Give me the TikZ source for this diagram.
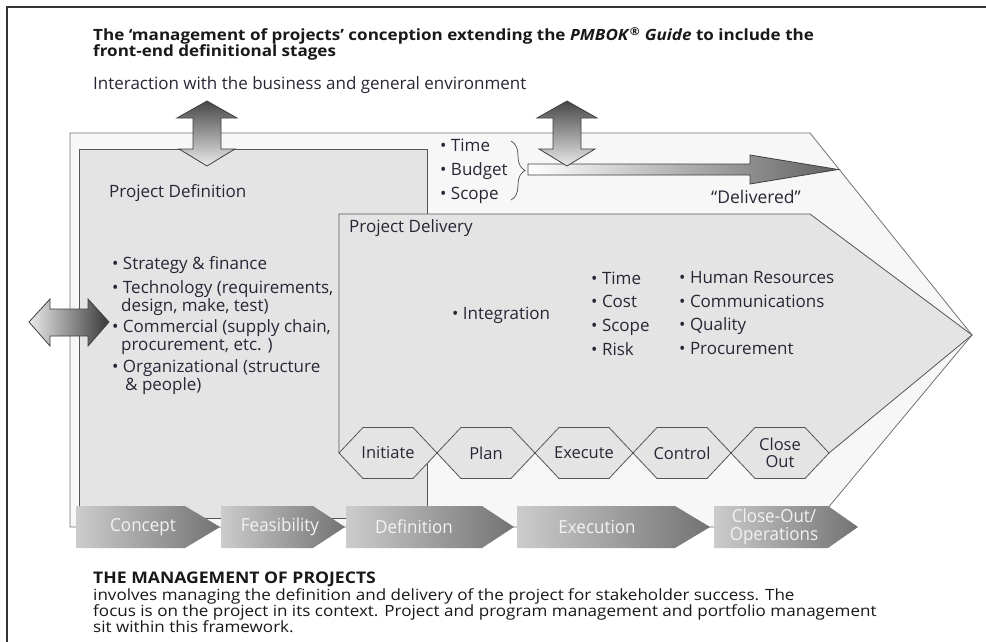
\documentclass[tikz,border=0pt]{standalone}
\usepackage{fontspec}
\setmainfont{Open Sans}
\newfontfamily\condfont[FakeStretch=0.945]{Open Sans}
\newfontfamily\wideft[FakeStretch=1.1]{Open Sans}
\usetikzlibrary{decorations.pathreplacing}
\definecolor{txt}{HTML}{2A2636}
\definecolor{outerfill}{HTML}{F7F7F7}
\definecolor{grayfill}{HTML}{E4E4E4}
\definecolor{edge}{HTML}{555555}
\tikzset{
  lbl/.style={text=txt, font=\fontsize{17}{18}\selectfont, inner sep=0pt, anchor=base west, align=left},
  ttl/.style={text=black!90, font=\wideft\bfseries\fontsize{15.5}{16}\selectfont, inner sep=0pt, anchor=base west},
  btm/.style={text=black!90, font=\wideft\fontsize{15.5}{16}\selectfont, inner sep=0pt, anchor=base west},
  hexs/.style={fill=grayfill, draw=edge, line width=0.8pt, line join=miter},
  hexlbl/.style={text=txt, font=\fontsize{16.5}{17}\selectfont, inner sep=0pt, align=center},
  stage/.style={left color=black!20, right color=black!55, draw=none},
  stagelbl/.style={text=white!95!black, font=\condfont\fontsize{18}{18}\selectfont, inner sep=0pt, align=center},
  vbig/.style={top color=black!72, bottom color=black!8, draw=black!75, line width=0.8pt, line join=miter},
  hbig/.style={left color=black!8, right color=black!78, draw=black!75, line width=0.8pt, line join=miter},
}
\newcommand\vdarr[1]{%
  \path[vbig] (#1,101) -- (#1+30,118) -- (#1+14,118) -- (#1+14,149) -- (#1+28,149) -- (#1,166)
    -- (#1-28,149) -- (#1-14,149) -- (#1-14,118) -- (#1-30,118) -- cycle;}
\newcommand\stagearr[3]{%
  \path[stage] (#1,506) -- (#2,506) -- (#3,527) -- (#2,548) -- (#1,548) -- cycle;}
\begin{document}
\begin{tikzpicture}[x=1pt,y=-1pt]
\useasboundingbox (0,0) rectangle (986,642);
\fill[white] (0,0) rectangle (986,642);
% frame
\draw[line width=2pt, black!80] (986,7) -- (7,7) -- (7,642);

% title
\node[ttl] (t1) at (93,41) {The ‘management of projects’ conception extending the \textit{PMBOK}\textsuperscript{®} \textit{Guide} to include the};
\node[ttl] (t2) at (93,57) {front-end definitional stages};
\node[lbl] (env) at (93,89) {Interaction with the business and general environment};

% outer environment shape
\filldraw[fill=outerfill, draw=black!55, line width=0.8pt] (70,133) -- (810,133) -- (972,335) -- (812,527) -- (70,527) -- cycle;

% project definition box
\filldraw[fill=grayfill, draw=edge, line width=0.8pt] (79,149) rectangle (427,518);

% project delivery shape
\fill[grayfill] (339,214) -- (810,214) -- (972,335) -- (829,453) -- (339,453) -- cycle;
\draw[edge, line width=0.8pt] (339,453) -- (339,214) -- (810,214) -- (972,335) -- (829,453);

% hexagons
\foreach \c in {388,486,584,682,780}{
  \path[hexs] (\c-49,453) -- (\c-25,427.5) -- (\c+25,427.5) -- (\c+49,453) -- (\c+25,478.5) -- (\c-25,478.5) -- cycle;
}
\node[hexlbl] (hinit) at (388,453) {Initiate};
\node[hexlbl] (hplan) at (486,453) {Plan};
\node[hexlbl] (hexec) at (584,453) {Execute};
\node[hexlbl] (hcont) at (682,453) {Control};
\node[hexlbl] (hclose) at (780,453) {Close\\Out};

% stage arrows
\stagearr{76}{185}{220}
\stagearr{221}{313}{345}
\stagearr{346}{482}{514}
\stagearr{517}{675}{710}
\stagearr{714}{828}{858}
\node[stagelbl] (sconc) at (143,527) {Concept};
\node[stagelbl] (sfeas) at (280,527) {Feasibility};
\node[stagelbl] (sdef) at (414,527) {Definition};
\node[stagelbl] (sexec) at (597,527) {Execution};
\node[stagelbl] (sclose) at (774,527) {Close-Out/\\Operations};

% delivered arrow
\path[left color=white, right color=black!62, draw=black!75, line width=0.8pt, line join=miter]
  (528,164) -- (750,164) -- (750,155) -- (838,169.5) -- (750,184) -- (750,175) -- (528,175) -- cycle;
\node[text=txt, font=\fontsize{17.5}{18}\selectfont, inner sep=0pt] (deliv) at (756,197) {“Delivered”};

% vertical double arrows
\vdarr{207}
\vdarr{567}

% left horizontal double arrow
\path[hbig] (29,322) -- (50,299) -- (50,309) -- (88,309) -- (88,299) -- (109,322) -- (88,346) -- (88,336) -- (50,336) -- (50,346) -- cycle;

% brace
\draw[decorate, decoration={brace, amplitude=14pt}, black!70, line width=0.7pt] (511,141) -- (511,200);

% texts in definition
\node[lbl] (pdef) at (109,197) {Project Definition};
\node[lbl] (b1) at (112,269) {• Strategy \& finance};
\node[lbl] (b2) at (112,311) {• Technology (requirements,\\\hspace*{9pt}design, make, test)};
\node[lbl] (b3) at (112,350) {• Commercial (supply chain,\\\hspace*{9pt}procurement, etc. )};
\node[lbl] (b4) at (112,390) {• Organizational (structure\\\hspace*{13pt}\& people)};

% texts in delivery
\node[lbl] (pdel) at (349,232) {Project Delivery};
\node[lbl] (tbs1) at (440,151) {• Time};
\node[lbl] (tbs2) at (440,175) {• Budget};
\node[lbl] (tbs3) at (440,199) {• Scope};
\node[lbl] (integ) at (452,319) {• Integration};
\node[lbl] (k1) at (591,284) {• Time};
\node[lbl] (k2) at (591,307) {• Cost};
\node[lbl] (k3) at (591,331) {• Scope};
\node[lbl] (k4) at (591,355) {• Risk};
\node[lbl] (h1) at (679,283) {• Human Resources};
\node[lbl] (h2) at (679,307) {• Communications};
\node[lbl] (h3) at (679,330) {• Quality};
\node[lbl] (h4) at (679,354) {• Procurement};

% bottom text
\node[btm, font=\wideft\bfseries\fontsize{16}{16}\selectfont] (m0) at (93,583) {THE MANAGEMENT OF PROJECTS};
\node[btm] (m1) at (93,600) {involves managing the definition and delivery of the project for stakeholder success. The};
\node[btm] (m2) at (93,616) {focus is on the project in its context. Project and program management and portfolio management};
\node[btm] (m3) at (93,632) {sit within this framework.};
\end{tikzpicture}
\end{document}
